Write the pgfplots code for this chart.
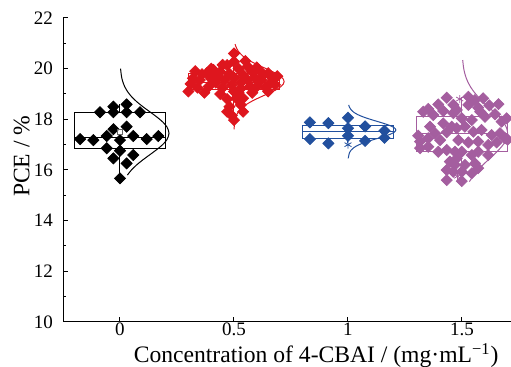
\documentclass[border=0pt]{standalone}
\usepackage{fontspec}
\setmainfont{Liberation Serif}
\usepackage{pgfplots}
\pgfplotsset{compat=1.18}
\definecolor{cred}{RGB}{222,22,30}
\definecolor{cblue}{RGB}{34,80,158}
\definecolor{cpurp}{RGB}{164,94,159}
\pgfplotsset{dia/.style={only marks, mark=square*, mark size=1.95pt, mark options={rotate=45, solid}}}
\begin{document}
\begin{tikzpicture}
\begin{axis}[name=ax,
  width=224pt, height=152pt, scale only axis,
  xmin=-0.25, xmax=1.715, ymin=10, ymax=22,
  axis x line*=bottom, axis y line*=left,
  axis line style={-, line width=0.5pt},
  xtick={0,0.5,1,1.5}, xticklabels={0,0.5,1,1.5},
  ytick={10,12,14,16,18,20,22}, minor y tick num=1,
  tick align=inside, major tick length=2.6pt, minor tick length=1.6pt,
  every tick/.style={black, line width=0.5pt},
  /pgf/number format/assume math mode=true,
  ticklabel style={font=\fontsize{9.5}{10}\selectfont},
  yticklabel style={xshift=-1.5pt},
  xticklabel style={yshift=0.8pt, inner sep=1pt},
  xlabel={Concentration of 4-CBAI / (mg·mL\textsuperscript{−1})},
  ylabel={PCE / \%},
  label style={font=\fontsize{11.8}{13}\selectfont},
  xlabel style={at={(axis description cs:0.565,0)}, anchor=base, yshift=-20.4pt, inner sep=1pt},
  ylabel style={at={(axis description cs:-0.092,0.545)}, anchor=center},
  clip=false, unbounded coords=jump,
]
% boxes, medians and whiskers
\addplot[black, line width=0.5pt] coordinates {
(-0.2,16.83) (0.2,16.83) (0.2,18.25) (-0.2,18.25) (-0.2,16.83) (nan,nan)
(-0.2,17.30) (0.2,17.30) (nan,nan) (0,15.67) (0,16.83) (nan,nan) (0,18.25) (0,18.59)};
\addplot[cred, line width=0.5pt] coordinates {
(0.3,19.16) (0.7,19.16) (0.7,19.79) (0.3,19.79) (0.3,19.16) (nan,nan)
(0.3,19.45) (0.7,19.45) (nan,nan) (0.5,17.97) (0.5,19.16) (nan,nan) (0.5,19.79) (0.5,20.60)};
\addplot[cblue, line width=0.5pt] coordinates {
(0.8,17.25) (1.2,17.25) (1.2,17.75) (0.8,17.75) (0.8,17.25) (nan,nan)
(0.8,17.51) (1.2,17.51) (nan,nan) (1,17.05) (1,17.25) (nan,nan) (1,17.75) (1,18.06)};
\addplot[cpurp, line width=0.5pt] coordinates {
(1.3,16.72) (1.7,16.72) (1.7,18.13) (1.3,18.13) (1.3,16.72) (nan,nan)
(1.3,17.45) (1.7,17.45) (nan,nan) (1.5,15.56) (1.5,16.72) (nan,nan) (1.5,18.13) (1.5,18.89)};
% points
\addplot[dia, black] coordinates {
(-0.088,18.28) (-0.029,18.50) (0.029,18.59) (-0.029,18.28) (0.029,18.28) (0.088,18.28)
(-0.029,17.61) (0.029,17.71) (-0.175,17.22) (-0.117,17.18) (-0.058,17.34) (0,17.18)
(0.058,17.34) (0.117,17.22) (0.168,17.34) (-0.058,16.86) (0,16.76) (-0.029,16.46)
(0.058,16.59) (0.029,16.26) (0,15.67)};
\addplot[dia, cred] coordinates {
(0.30,19.10) (0.32,19.62) (0.35,19.55) (0.38,19.82) (0.39,19.30) (0.41,19.95)
(0.42,19.45) (0.44,19.88) (0.43,19.70) (0.45,19.25) (0.46,19.55) (0.47,20.14)
(0.48,19.80) (0.49,19.35) (0.50,20.60) (0.50,20.27) (0.50,19.65) (0.50,19.10)
(0.52,20.00) (0.53,19.45) (0.53,19.22) (0.54,19.75) (0.56,20.08) (0.56,19.55)
(0.57,19.30) (0.58,19.88) (0.59,19.65) (0.60,19.30) (0.61,19.95) (0.62,19.55)
(0.63,19.75) (0.64,19.25) (0.65,19.82) (0.66,19.45) (0.67,19.62) (0.68,19.36)
(0.69,19.70) (0.31,19.40) (0.34,19.25) (0.37,19.05) (0.40,19.60) (0.36,19.78)
(0.51,18.83) (0.54,18.83) (0.47,18.80) (0.53,18.57) (0.48,18.50) (0.47,18.30)
(0.54,18.30) (0.50,17.97) (0.49,18.15) (0.52,19.05) (0.44,19.00) (0.58,19.05)
(0.55,20.30) (0.45,20.15) (0.60,20.05) (0.40,20.00) (0.65,19.10) (0.33,19.90)};
\addplot[dia, cblue] coordinates {
(0.833,17.88) (0.914,17.85) (1,18.06) (1,17.65) (1,17.35) (1.075,17.72)
(1.16,17.55) (0.833,17.22) (0.914,17.05) (1.075,17.15) (1.16,17.27)};
\addplot[dia, cpurp] coordinates {
(1.433,18.85) (1.396,18.59) (1.462,18.57) (1.352,18.41) (1.418,18.33) (1.374,18.17)
(1.462,18.24) (1.360,17.71) (1.418,17.84) (1.455,17.71) (1.382,17.45) (1.433,17.49)
(1.316,17.12) (1.352,17.25) (1.404,17.18) (1.316,16.86) (1.352,16.92) (1.396,16.72)
(1.433,16.79) (1.469,16.72) (1.447,16.33) (1.477,16.46) (1.433,16.00) (1.462,15.93)
(1.433,15.60) (1.469,16.20) (1.528,18.89) (1.557,18.76) (1.593,18.83) (1.528,18.57)
(1.571,18.46) (1.477,18.37) (1.645,18.20) (1.601,18.10) (1.499,18.04) (1.543,17.97)
(1.674,17.91) (1.477,17.65) (1.513,17.71) (1.550,17.51) (1.586,17.58) (1.630,17.38)
(1.667,17.45) (1.689,17.25) (1.484,17.18) (1.528,17.09) (1.571,17.12) (1.615,16.99)
(1.652,17.09) (1.499,16.72) (1.543,16.59) (1.571,16.72) (1.615,16.59) (1.513,16.20)
(1.557,16.26) (1.499,15.93) (1.543,15.87) (1.499,15.56) (1.571,16.07) (1.330,18.30)
(1.308,17.35) (1.700,17.20) (1.696,18.04) (1.620,18.55) (1.660,18.60) (1.580,18.30)};
% mean / extreme markers
\addplot[only marks, mark=square, mark size=1.3pt, black!60, line width=0.4pt] coordinates {(0,17.51)};
\addplot[only marks, mark=asterisk, mark size=2pt, cblue] coordinates {(1,17.00)};
\addplot[only marks, mark=asterisk, mark size=2pt, cpurp] coordinates {(1.49,18.80) (1.48,15.75)};
% distribution curves
\addplot[black, line width=0.5pt, smooth] coordinates {
(0.0327,15.8) (0.0408,15.9) (0.0502,16.0) (0.0729,16.2) (0.1002,16.4) (0.1304,16.6)
(0.1605,16.8) (0.1869,17.0) (0.2059,17.2) (0.215,17.45) (0.2059,17.7) (0.1869,17.9)
(0.1605,18.1) (0.1304,18.3) (0.1002,18.5) (0.0729,18.7) (0.0502,18.9) (0.0327,19.1)
(0.0201,19.3) (0.0117,19.5) (0.0065,19.7) (0.0024,20.0)};
\addplot[cred, line width=0.5pt, smooth] coordinates {
(0.5005,17.60) (0.5027,17.89) (0.5076,18.09) (0.5186,18.29) (0.5396,18.49) (0.5549,18.59)
(0.5734,18.69) (0.5950,18.79) (0.6187,18.89) (0.6433,18.99) (0.6672,19.09) (0.6885,19.19)
(0.7054,19.29) (0.7163,19.39) (0.72,19.49) (0.7163,19.59) (0.7054,19.69) (0.6885,19.79)
(0.6672,19.89) (0.6433,19.99) (0.6187,20.09) (0.5950,20.19) (0.5734,20.29) (0.5549,20.39)
(0.5396,20.49) (0.5186,20.69) (0.5076,20.89) (0.5051,20.97)};
\addplot[cblue, line width=0.5pt, smooth] coordinates {
(1.0009,16.46) (1.0063,16.68) (1.0132,16.78) (1.0252,16.88) (1.0442,16.98) (1.0712,17.08)
(1.1051,17.18) (1.1423,17.28) (1.1766,17.38) (1.2011,17.48) (1.21,17.58) (1.2011,17.68)
(1.1766,17.78) (1.1423,17.88) (1.1051,17.98) (1.0712,18.08) (1.0442,18.18) (1.0252,18.28)
(1.0132,18.38) (1.0063,18.48) (1.0030,18.57)};
\addplot[cpurp, line width=0.5pt, smooth] coordinates {
(1.5323,15.54) (1.5556,15.85) (1.5751,16.05) (1.5974,16.25) (1.6213,16.45) (1.6452,16.65)
(1.6670,16.85) (1.6846,17.05) (1.6960,17.25) (1.70,17.45) (1.6960,17.65) (1.6846,17.85)
(1.6670,18.05) (1.6452,18.25) (1.6213,18.45) (1.5974,18.65) (1.5751,18.85) (1.5556,19.05)
(1.5396,19.25) (1.5271,19.45) (1.5178,19.65) (1.5112,19.85) (1.5068,20.05) (1.5031,20.34)};
\end{axis}
\pgfresetboundingbox
\path ([xshift=-31.5pt,yshift=-22.5pt]ax.south west) rectangle ([yshift=9pt]ax.north east);
\end{tikzpicture}
\end{document}
